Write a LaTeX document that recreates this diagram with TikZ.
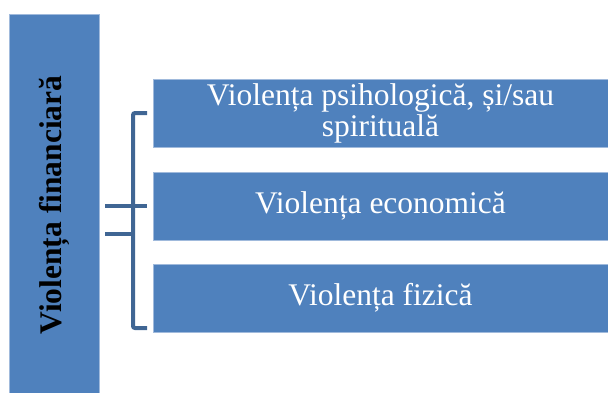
\documentclass[tikz,border=0pt]{standalone}
\usepackage{fontspec}
\setmainfont{Liberation Serif}
\usepackage{tikz}
\usetikzlibrary{positioning,calc}

\definecolor{boxblue}{RGB}{79,129,189}
\definecolor{boxedge}{RGB}{160,186,220}
\definecolor{bracketblue}{RGB}{64,102,148}

\begin{document}
\begin{tikzpicture}[
    x=1pt, y=1pt,
    catbox/.style={draw=boxedge, line width=0.6pt, fill=boxblue, inner sep=0pt, outer sep=0pt, align=center},
    formbox/.style={catbox, minimum width=455pt, minimum height=68pt, text=white, font=\fontsize{31.5}{31}\selectfont},
    bracket/.style={draw=bracketblue, line width=4pt, rounded corners=2pt}
  ]
    \useasboundingbox (0,0) rectangle (608,-392);

    \node[catbox, minimum width=90pt, minimum height=382pt] (financiar) at (54,-205)
      {\rotatebox{90}{\fontsize{31.5}{31}\selectfont\bfseries Violența financiară}};

    \node[formbox] (psiho) at (380.5,-113) {Violența psihologică, și/sau\\spirituală};
    \node[formbox] (econ)  at (380.5,-206) {Violența economică};
    \node[formbox] (fizic) at (380.5,-298) {Violența fizică};

    \draw[bracket] ([xshift=-6pt]psiho.west) -- ++(-14,0) |- ([xshift=-6pt,yshift=4pt]fizic.south west);
    \draw[bracket] ([xshift=6pt]financiar.east |- econ.west) -- ([xshift=-6pt]econ.west);
    \draw[bracket] ([xshift=6pt,yshift=6pt]financiar.east |- econ.south) -- ([xshift=-20pt,yshift=6pt]econ.south west);
  \end{tikzpicture}
\end{document}
